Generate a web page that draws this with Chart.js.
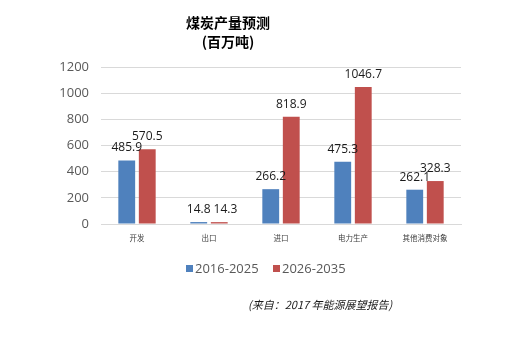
<!DOCTYPE html>
<html>
<head>
<meta charset="utf-8">
<script src="https://cdn.jsdelivr.net/npm/chart.js@4.4.1/dist/chart.umd.min.js"></script>
<style>
  html, body { margin: 0; padding: 0; background: #ffffff; }
  #wrap { width: 529px; height: 343px; position: relative; }
</style>
</head>
<body>
<div id="wrap"><canvas id="c" width="529" height="343"></canvas></div>
<script>
// Coal output forecast (million tonnes) by use
const categories = ['开发', '出口', '进口', '电力生产', '其他消费对象'];
const series1Name = '2016-2025';
const series2Name = '2026-2035';
const series1 = [485.9, 14.8, 266.2, 475.3, 262.1];
const series2 = [570.5, 14.3, 818.9, 1046.7, 328.3];
const yTicks = [0, 200, 400, 600, 800, 1000, 1200];
const titleLines = ['煤炭产量预测', '(百万吨)'];
const sourceNote = '(来自：2017 年能源展望报告)';

const BLUE = '#4f81bd';
const RED = '#c0504d';
const CJK = '"Noto Sans CJK SC", "Noto Sans", sans-serif';
const NUM = '"Open Sans", "Noto Sans", sans-serif';

// value labels above each bar; when both labels of a category sit at
// nearly the same height, the second one is nudged right to stay clear
const valueLabels = {
  id: 'valueLabels',
  afterDatasetsDraw(chart) {
    const ctx = chart.ctx;
    ctx.save();
    ctx.font = '12px ' + NUM;
    ctx.fillStyle = '#1a1a1a';
    ctx.textAlign = 'center';
    ctx.textBaseline = 'alphabetic';
    const m0 = chart.getDatasetMeta(0);
    const m1 = chart.getDatasetMeta(1);
    categories.forEach((_, i) => {
      const b0 = m0.data[i], b1 = m1.data[i];
      const t0 = series1[i].toFixed(1), t1 = series2[i].toFixed(1);
      const w0 = ctx.measureText(t0).width, w1 = ctx.measureText(t1).width;
      const y0 = b0.y - 9, y1 = b1.y - 9;
      let x1 = b1.x;
      if (Math.abs(y0 - y1) < 5) {
        const overlap = (b0.x + w0 / 2 + 3) - (x1 - w1 / 2);
        if (overlap > 0) x1 += overlap;
      }
      ctx.fillText(t0, b0.x, y0);
      ctx.fillText(t1, x1, y1);
    });
    ctx.restore();
  }
};

// title, legend and source line
const frame = {
  id: 'frame',
  afterDraw(chart) {
    const ctx = chart.ctx;
    ctx.save();
    ctx.fillStyle = '#000000';
    ctx.textAlign = 'center';
    ctx.textBaseline = 'middle';
    ctx.font = 'bold 14px ' + CJK;
    ctx.fillText(titleLines[0], 228, 23);
    ctx.fillText(titleLines[1], 228, 42);

    // legend
    ctx.font = '13px ' + NUM;
    ctx.textAlign = 'left';
    ctx.fillStyle = BLUE;
    ctx.fillRect(186, 265, 7, 7);
    ctx.fillStyle = '#595959';
    ctx.fillText(series1Name, 195, 269);
    ctx.fillStyle = RED;
    ctx.fillRect(273, 265, 7, 7);
    ctx.fillStyle = '#595959';
    ctx.fillText(series2Name, 282, 269);

    // source
    ctx.fillStyle = '#1a1a1a';
    ctx.font = 'italic 11px ' + CJK;
    ctx.fillText(sourceNote, 248, 305);
    ctx.restore();
  }
};

new Chart(document.getElementById('c'), {
  type: 'bar',
  data: {
    labels: categories,
    datasets: [
      { label: series1Name, data: series1, backgroundColor: BLUE },
      { label: series2Name, data: series2, backgroundColor: RED }
    ]
  },
  options: {
    responsive: false,
    animation: false,
    devicePixelRatio: 1,
    layout: { padding: { left: 0, right: 68, top: 67, bottom: 99 } },
    datasets: { bar: { categoryPercentage: 0.57, barPercentage: 0.82 } },
    plugins: {
      legend: { display: false },
      title: { display: false },
      tooltip: { enabled: false }
    },
    scales: {
      x: {
        grid: { display: false, drawTicks: false },
        border: { display: true, color: '#d9d9d9' },
        ticks: { font: { size: 7.5, family: CJK }, color: '#404040', padding: 10, maxRotation: 0, autoSkip: false },
        afterFit(s) { s.height = 20; }
      },
      y: {
        min: 0,
        max: 1200,
        afterBuildTicks(s) { s.ticks = yTicks.map(v => ({ value: v })); },
        grid: { color: '#d9d9d9', drawTicks: false },
        border: { display: false },
        ticks: {
          font: { size: 13, family: NUM },
          color: '#595959',
          padding: 12,
          callback: v => String(v)
        },
        afterFit(s) { s.width = 101; }
      }
    }
  },
  plugins: [valueLabels, frame]
});
</script>
</body>
</html>
